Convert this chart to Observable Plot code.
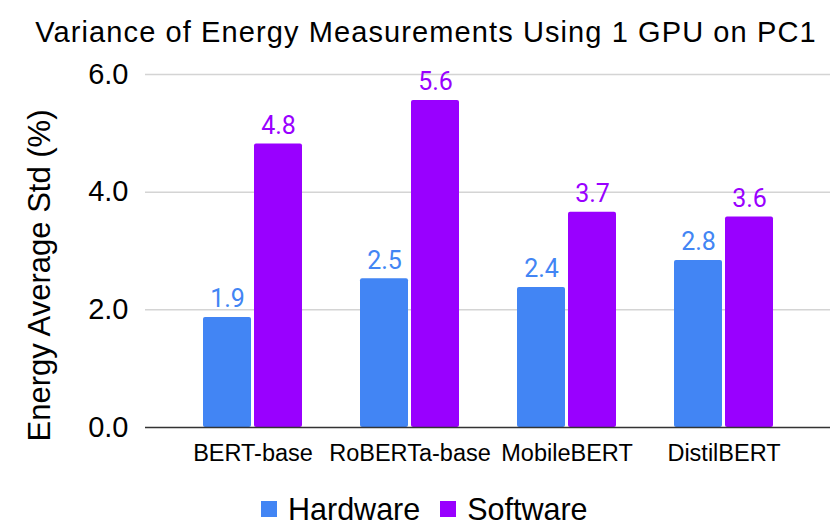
<!DOCTYPE html>
<html>
<head>
<meta charset="utf-8">
<script src="https://cdn.jsdelivr.net/npm/d3@7"></script>
<script src="https://cdn.jsdelivr.net/npm/@observablehq/plot@0.6"></script>
<style>
  html, body { margin: 0; padding: 0; background: #fff; }
  #wrap { width: 830px; height: 527px; position: relative; overflow: hidden; }
  #title { height: 55px; box-sizing: border-box; padding-top: 18px; padding-left: 22px; text-align: center;
           font-family: "Liberation Sans", Arial, sans-serif; font-size: 29px; line-height: 29px; letter-spacing: 1.1px; color: #000; white-space: nowrap; }
  #legend { position: absolute; top: 494px; left: 261px; display: flex; align-items: center;
            font-family: "Liberation Sans", Arial, sans-serif; font-size: 30.5px; line-height: 30px; color: #000; }
  .sw { width: 16px; height: 16px; display: inline-block; margin-right: 11px; }
  .item { display: flex; align-items: center; margin-right: 20px; }
</style>
</head>
<body>
<div id="wrap">
  <div id="title">Variance of Energy Measurements Using 1 GPU on PC1</div>
  <div id="chart"></div>
  <div id="legend"></div>
</div>
<script>
const models = ["BERT-base", "RoBERTa-base", "MobileBERT", "DistilBERT"];
const series = ["Hardware", "Software"];
const hardware = [1.87, 2.53, 2.38, 2.84];
const software = [4.82, 5.56, 3.66, 3.58];
const labelsHardware = ["1.9", "2.5", "2.4", "2.8"];
const labelsSoftware = ["4.8", "5.6", "3.7", "3.6"];
const yTicks = [0, 2, 4, 6];
const colors = ["#4285F4", "#9900FF"];

const hw = models.map((m, i) => ({model: m, value: hardware[i], label: labelsHardware[i]}));
const sw = models.map((m, i) => ({model: m, value: software[i], label: labelsSoftware[i]}));

const half = 51; // half of group slot: bar 48 + gap 3

const plot = Plot.plot({
  width: 830,
  height: 420,
  marginLeft: 145,
  marginRight: 0,
  marginTop: 19,
  marginBottom: 48,
  style: {fontFamily: "'Liberation Sans', Arial, sans-serif", background: "#fff"},
  x: {domain: models, paddingInner: 0.3714, paddingOuter: 0.36, label: null},
  y: {domain: [0, 6], label: null},
  marks: [
    Plot.gridY(yTicks.filter(d => d > 0), {stroke: "#d4d4d4", strokeOpacity: 1, strokeWidth: 1.5}),
    Plot.axisY({ticks: yTicks, tickSize: 0, tickPadding: 17, tickFormat: d => d.toFixed(1), fontSize: 29, fill: "#000", label: null}),
    Plot.axisX({tickSize: 0, tickPadding: 17, fontSize: 23.5, fill: "#000", label: null}),
    Plot.barY(hw, {x: "model", y: "value", fill: colors[0], insetRight: half, rx: 2}),
    Plot.barY(sw, {x: "model", y: "value", fill: colors[1], insetLeft: half, rx: 2}),
    Plot.ruleY([0], {stroke: "#333", strokeWidth: 1.5}),
    Plot.text(hw, {x: "model", y: "value", text: "label", dx: -25.5, dy: -10, lineAnchor: "bottom", fill: colors[0], fontSize: 25, fontFamily: "Roboto"}),
    Plot.text(sw, {x: "model", y: "value", text: "label", dx: 25.5, dy: -10, lineAnchor: "bottom", fill: colors[1], fontSize: 25, fontFamily: "Roboto"}),
    Plot.text(["Energy Average Std (%)"], {frameAnchor: "left", text: d => d, rotate: -90, dx: -105, dy: 24.5, fontSize: 31, fill: "#000", lineAnchor: "middle", textAnchor: "middle"})
  ]
});
document.getElementById("chart").appendChild(plot);

const legend = document.getElementById("legend");
series.forEach((s, i) => {
  const item = document.createElement("div");
  item.className = "item";
  const sq = document.createElement("span");
  sq.className = "sw";
  sq.style.background = colors[i];
  const t = document.createElement("span");
  t.textContent = s;
  item.appendChild(sq);
  item.appendChild(t);
  legend.appendChild(item);
});
</script>
</body>
</html>
